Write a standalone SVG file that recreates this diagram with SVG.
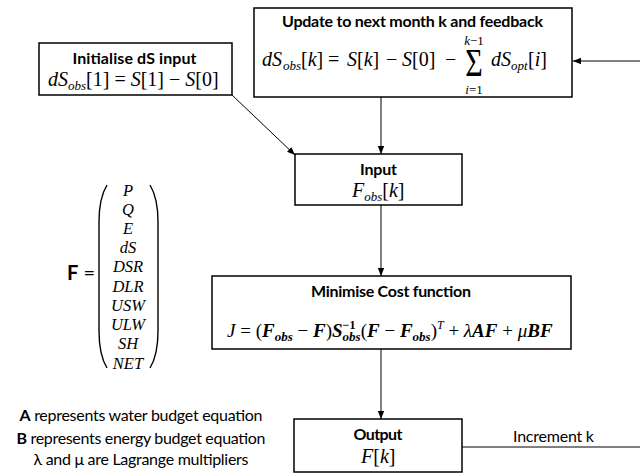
<svg xmlns="http://www.w3.org/2000/svg" width="640" height="474" viewBox="0 0 640 474">
<style>
.box{fill:#fff;stroke:#000;stroke-width:1.5}
.t{font-family:Lato,"Liberation Sans",sans-serif;font-size:16px;fill:#000}
.b{font-weight:bold}
.mid{text-anchor:middle}
.m{font-family:"Liberation Serif",serif;font-size:20px;font-style:italic;fill:#000}
.u{font-style:normal}
.bi{font-weight:bold}
.s{font-size:13px}
.c{stroke:#000;stroke-width:1;fill:none}
.p{stroke:#000;stroke-width:1.4;fill:none}
</style>
<defs>
<marker id="ah" viewBox="0 0 10 10" refX="10" refY="5" markerWidth="9" markerHeight="8" markerUnits="userSpaceOnUse" orient="auto">
<path d="M0,1 L10,5 L0,9 z" fill="#000"/>
</marker>
</defs>

<g id="connectors">
<path class="c" d="M381,97 V154" marker-end="url(#ah)"/>
<path class="c" d="M232,95 L295,155" marker-end="url(#ah)"/>
<path class="c" d="M381,205 V276" marker-end="url(#ah)"/>
<path class="c" d="M381,349 V419" marker-end="url(#ah)"/>
<path class="c" d="M462,447 H640"/>
<path class="c" d="M640,61 H573" marker-end="url(#ah)"/>
<text class="t" x="513" y="442" textLength="81">Increment k</text>
</g>

<g id="update">
<rect class="box" x="254" y="8" width="318" height="89"/>
<text class="t b mid" x="412.5" y="27" textLength="261">Update to next month k and feedback</text>
<text class="m" y="66"><tspan x="262">dS</tspan><tspan class="s" x="283" y="70">obs</tspan><tspan class="u" x="301" y="66">[</tspan>k<tspan class="u">]</tspan><tspan class="u" x="328">=</tspan><tspan x="347">S</tspan><tspan class="u">[</tspan>k<tspan class="u">]</tspan><tspan class="u" x="386">−</tspan><tspan x="402">S</tspan><tspan class="u">[0]</tspan><tspan class="u" x="445">−</tspan><tspan x="491">dS</tspan><tspan class="s" x="511" y="70">opt</tspan><tspan class="u" x="528" y="66">[</tspan>i<tspan class="u">]</tspan></text>
<text class="m u mid" transform="translate(474,76) scale(1,1.3)" style="font-size:30px">Σ</text>
<text class="m mid" x="474" y="45" style="font-size:13px">k<tspan class="u">−1</tspan></text>
<text class="m mid" x="474" y="93.5" style="font-size:13px">i<tspan class="u">=1</tspan></text>
</g>

<g id="initialise">
<rect class="box" x="39" y="43" width="193" height="52"/>
<text class="t b mid" x="134.5" y="63.5" textLength="124">Initialise dS input</text>
<text class="m" x="48" y="86">dS<tspan class="s" dy="4">obs</tspan><tspan class="u" dy="-4">[1] = </tspan>S<tspan class="u">[1] − </tspan>S<tspan class="u">[0]</tspan></text>
</g>

<g id="input">
<rect class="box" x="295" y="154" width="167" height="51"/>
<text class="t b mid" x="378.5" y="175" textLength="37">Input</text>
<text class="m" x="352" y="197">F<tspan class="s" dy="4">obs</tspan><tspan class="u" dy="-4">[</tspan>k<tspan class="u">]</tspan></text>
</g>

<g id="minimise">
<rect class="box" x="212" y="276" width="359" height="73"/>
<text class="t b mid" x="391" y="297" textLength="160">Minimise Cost function</text>
<text class="m" x="227" y="337" style="font-size:19px">J<tspan class="u"> = (</tspan><tspan class="bi">F</tspan><tspan class="bi s" dy="4">obs</tspan><tspan class="u" dy="-4"> − </tspan><tspan class="bi">F</tspan><tspan class="u">)</tspan><tspan class="bi">S</tspan><tspan class="bi u" dy="-8" style="font-size:12px">−1</tspan><tspan class="bi s" dx="-12.8" dy="12">obs</tspan><tspan class="u" dy="-4">(</tspan><tspan class="bi">F</tspan><tspan class="u"> − </tspan><tspan class="bi">F</tspan><tspan class="bi s" dy="4">obs</tspan><tspan class="u" dy="-4">)</tspan><tspan dy="-8" style="font-size:12px">T</tspan><tspan class="u" dy="8"> + </tspan>λ<tspan class="bi">AF</tspan><tspan class="u"> + </tspan>μ<tspan class="bi">BF</tspan></text>
</g>

<g id="output">
<rect class="box" x="294" y="419" width="168" height="53"/>
<text class="t b mid" x="378" y="440" textLength="49">Output</text>
<text class="m" x="361" y="463">F<tspan class="u">[</tspan>k<tspan class="u">]</tspan></text>
</g>

<g id="vector">
<text class="t" x="67" y="280" style="font-size:20px"><tspan class="b">F</tspan> =</text>
<path class="p" d="M107,185 Q99,198 99,222 L99,331 Q99,355 107,368"/>
<path class="p" d="M150,185 Q158,198 158,222 L158,331 Q158,355 150,368"/>
<g class="m mid" style="font-size:16.5px">
<text x="128" y="195.5">P</text>
<text x="128" y="214.7">Q</text>
<text x="128" y="233.9">E</text>
<text x="128" y="253.2">dS</text>
<text x="128" y="272.4">DSR</text>
<text x="128" y="291.6">DLR</text>
<text x="128" y="310.8">USW</text>
<text x="128" y="330">ULW</text>
<text x="128" y="349.3">SH</text>
<text x="128" y="368.5">NET</text>
</g>
</g>

<g id="legend">
<text class="t mid" x="141" y="421" textLength="243"><tspan class="b">A</tspan> represents water budget equation</text>
<text class="t mid" x="141" y="443.5" textLength="249"><tspan class="b">B</tspan> represents energy budget equation</text>
<text class="t mid" x="141" y="465" textLength="215">λ and μ are Lagrange multipliers</text>
</g>
</svg>
